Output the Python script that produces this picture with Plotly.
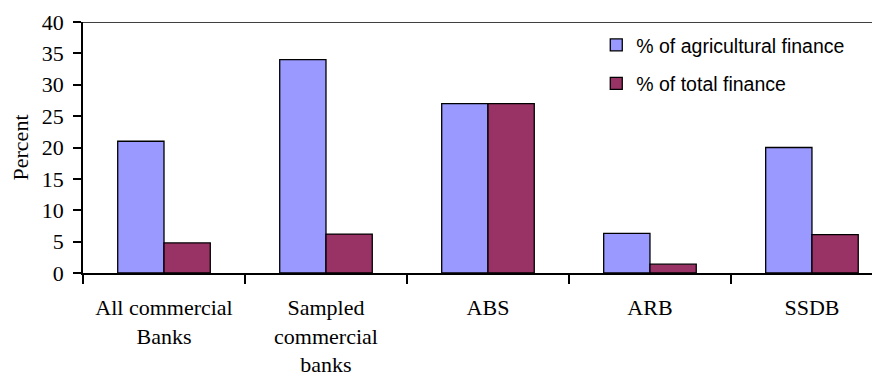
import plotly.graph_objects as go

categories = ["All commercial<br>Banks", "Sampled<br>commercial<br>banks", "ABS", "ARB", "SSDB"]
agri_share = [21, 34, 27, 6.3, 20]
total_share = [4.8, 6.2, 27, 1.4, 6.1]
y_ticks = [0, 5, 10, 15, 20, 25, 30, 35, 40]

fig = go.Figure()
fig.add_trace(go.Bar(
    x=categories, y=agri_share, name="% of agricultural finance",
    marker=dict(color="#9999FF", line=dict(color="#000000", width=1.3)),
    legendgroup="a",
))
fig.add_trace(go.Bar(
    x=categories, y=total_share, name="% of total finance",
    marker=dict(color="#993366", line=dict(color="#000000", width=1.3)),
    legendgroup="b",
))

# the page body adds an 8px margin, so the figure is sized to fit the window
fig.update_layout(
    width=872, height=377,
    margin=dict(l=75, r=0, t=14, b=112, autoexpand=False),
    paper_bgcolor="white", plot_bgcolor="white",
    barmode="group", bargap=0.4286, bargroupgap=0,
    font=dict(family="Liberation Serif", size=22, color="black"),
    showlegend=True,
    legend=dict(
        x=0.644, y=0.985, xanchor="left", yanchor="top",
        font=dict(family="Liberation Sans", size=19.5, color="black"),
        bgcolor="rgba(0,0,0,0)", tracegroupgap=10,
        itemwidth=30,
    ),
    xaxis=dict(
        range=[-0.5, 4.42], showline=True, linecolor="black", linewidth=1.5,
        ticks="outside", ticklen=9, tickcolor="black", tickson="boundaries", tickwidth=1.5,
        showgrid=False, zeroline=False, automargin=False, ticklabelstandoff=14,
        tickfont=dict(family="Liberation Serif", size=22),
    ),
    yaxis=dict(
        range=[0, 40], tickvals=y_ticks, showline=True, linecolor="black", linewidth=1.5,
        ticks="outside", ticklen=8, tickcolor="black", tickwidth=1.5,
        showgrid=False, zeroline=False, automargin=False, ticklabelstandoff=5,
        tickfont=dict(family="Liberation Serif", size=22),
        title=dict(text="Percent", font=dict(family="Liberation Serif", size=22), standoff=10),
    ),
    shapes=[dict(type="line", xref="paper", yref="y", x0=0, x1=1, y0=40, y1=40,
                 line=dict(color="black", width=1.5))],
)

fig.write_html("out.html")
